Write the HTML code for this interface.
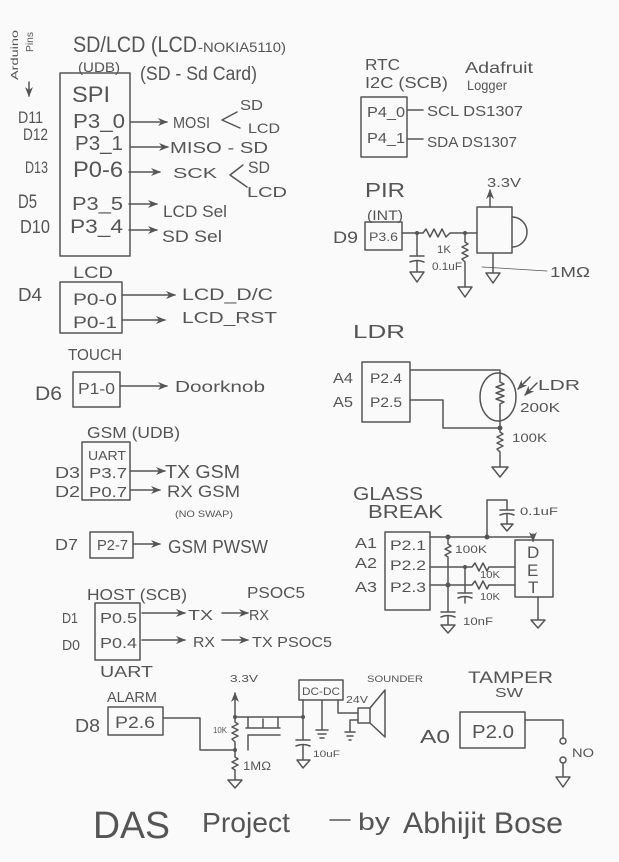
<!DOCTYPE html>
<html><head><meta charset="utf-8">
<style>
html,body{margin:0;padding:0;background:#fafafa;}
svg{display:block;}
text{font-family:"Liberation Sans",sans-serif;fill:#555;}
</style></head><body>
<svg width="619" height="862" viewBox="0 0 619 862" xmlns="http://www.w3.org/2000/svg">
<defs>
<marker id="a" markerWidth="10" markerHeight="8" refX="9" refY="4" orient="auto" markerUnits="userSpaceOnUse">
<path d="M0,0 L10,4 L0,8 L3,4 Z" fill="#555"/>
</marker>
</defs>
<rect width="619" height="862" fill="#fafafa"/>
<g stroke="#555" stroke-width="1.5" fill="none" stroke-linecap="round" stroke-linejoin="round">
<!-- top-left SPI -->
<path d="M29,82 V96" marker-end="url(#a)"/>
<rect x="60" y="73" width="70" height="183"/>
<path d="M131,122 H167" marker-end="url(#a)"/>
<path d="M131,147 H168" marker-end="url(#a)"/>
<path d="M129,172 H160" marker-end="url(#a)"/>
<path d="M129,204 H157" marker-end="url(#a)"/>
<path d="M129,230 H157" marker-end="url(#a)"/>
<polyline points="237,112 222,120 240,128"/>
<polyline points="243,165 230,175 247,187"/>
<!-- LCD -->
<rect x="60" y="282" width="62" height="51"/>
<path d="M122,295 H175" marker-end="url(#a)"/>
<path d="M122,320 H165" marker-end="url(#a)"/>
<!-- touch -->
<rect x="73" y="372" width="47" height="35"/>
<path d="M120,386 H167" marker-end="url(#a)"/>
<!-- GSM -->
<rect x="82" y="442" width="48" height="58"/>
<path d="M130,471 H165" marker-end="url(#a)"/>
<path d="M130,490 H160" marker-end="url(#a)"/>
<rect x="90" y="532" width="43" height="26"/>
<path d="M133,544 H160" marker-end="url(#a)"/>
<!-- RTC -->
<rect x="361" y="97" width="46" height="60"/>
<path d="M407,110 H423"/>
<path d="M407,139 H423"/>
<!-- PIR -->
<rect x="365" y="222" width="37" height="28"/>
<path d="M402,233 H423 l3,-4 l4,8 l4,-8 l4,8 l4,-8 l4,8 l4,-4 H477"/>
<path d="M417,233 V256 M410,256 H424 M410,262 q7,-3 14,0 M417,261 V272 M410,272 H424 L417,282 Z"/>
<path d="M465,233 V242 l3,2 l-6,3 l6,3 l-6,3 l6,3 l-6,3 l3,3 V287 M458,287 H472 L465,297 Z"/>
<rect x="477" y="207" width="35" height="46"/>
<path d="M512,217 A15,15 0 0 1 512,247"/>
<path d="M490,207 V190" marker-end="url(#a)"/>
<path d="M493,253 V273 M486,273 H500 L493,283 Z"/>
<path d="M482,267 L547,271" stroke-width="0.8"/>
<!-- LDR -->
<rect x="362" y="362" width="48" height="60"/>
<path d="M410,370 H500 V382 l4,2 l-8,3 l8,3 l-8,3 l8,3 l-8,3 l8,3 l-4,2 V428"/>
<ellipse cx="498" cy="397" rx="18" ry="24"/>
<path d="M410,400 H443 V428 H500"/>
<path d="M500,428 V432 l3,2 l-6,3 l6,3 l-6,3 l6,3 l-6,3 l3,3 V467 M492,467 H508 L500,477 Z"/>
<path d="M530,377 L518,389" marker-end="url(#a)"/>
<path d="M537,383 L525,395" marker-end="url(#a)"/>
<!-- Glass break -->
<rect x="385" y="532" width="45" height="78"/>
<path d="M430,537 H533 V541" />
<path d="M533,534 V541" marker-end="url(#a)"/>
<path d="M487,537 V500 H507 V510 M500,510 H514 M500,515 q7,-3 14,0 M507,514 V524 M501,524 H513 L507,531 Z"/>
<rect x="515" y="540" width="38" height="57"/>
<path d="M430,567 H472 l3,-4 l4,8 l4,-8 l4,8 l2,-4 H515"/>
<path d="M430,585 H472 l3,-4 l4,8 l4,-8 l4,8 l2,-4 H515"/>
<path d="M448,537 V544 l3,2 l-6,3 l6,3 l-6,3 l3,2 V612 M441,612 H455 M441,617 q7,-3 14,0 M448,616 V625 M441,625 H455 L448,633 Z"/>
<path d="M465,567 V593 M458,593 H472 M458,598 q7,-3 14,0 M465,597 V603"/>
<path d="M538,597 V620 M531,620 H545 L538,628 Z"/>
<!-- Host -->
<rect x="95" y="603" width="45" height="57"/>
<path d="M142,613 H185" marker-end="url(#a)"/>
<path d="M142,640 H185" marker-end="url(#a)"/>
<path d="M222,613 H248" marker-end="url(#a)"/>
<path d="M222,640 H248" marker-end="url(#a)"/>
<!-- Alarm -->
<rect x="108" y="707" width="55" height="28"/>
<path d="M163,718 H200 V750 H235"/>
<path d="M235,717 V693" marker-end="url(#a)"/>
<path d="M235,717 V722 l3,2 l-6,3 l6,3 l-6,3 l6,3 l-6,3 l3,3 V757 l3,2 l-6,3 l6,3 l-6,3 l3,2 V780 M228,780 H242 L235,788 Z"/>
<path d="M235,717 H278 V728 M248,717 V728 M263,728 V719 M246,728 H280 M248,735 H280 M248,735 V750 M278,717 H303"/>
<rect x="299" y="680" width="44" height="20"/>
<path d="M303,700 V740 M296,740 H310 M296,746 q7,-3 14,0 M303,745 V760 M297,760 H310 L303,768 Z"/>
<path d="M322,700 V730 M316,730 H328 M318,734 H326 M320,738 H324"/>
<path d="M338,700 V713 H358"/>
<rect x="358" y="708" width="12" height="15"/>
<path d="M370,708 L385,690 V737 L370,723"/>
<path d="M358,720 H350 V732 M345,732 H355 M347,736 H353 M349,740 H351"/>
<!-- Tamper -->
<rect x="460" y="712" width="65" height="36"/>
<path d="M525,720 H563 V738"/>
<circle cx="563" cy="741" r="3"/>
<circle cx="563" cy="760" r="3"/>
<path d="M563,763 V777 M556,777 H570 L563,787 Z"/>
<!-- title dash -->
<path d="M330,820 H350"/>
</g>
<g fill="#555">
<circle cx="417" cy="233" r="2"/><circle cx="465" cy="233" r="2"/>
<circle cx="500" cy="428" r="2.5"/>
<circle cx="448" cy="537" r="2.5"/><circle cx="487" cy="537" r="2.5"/>
<circle cx="465" cy="567" r="2"/><circle cx="448" cy="585" r="2.5"/>
<circle cx="235" cy="717" r="2"/><circle cx="235" cy="750" r="2"/><circle cx="303" cy="717" r="2"/>
</g>
<g>
<text transform="translate(18,80) rotate(-90)" font-size="10" textLength="50" lengthAdjust="spacingAndGlyphs">Arduino</text>
<text transform="translate(33,52) rotate(-90)" font-size="10" textLength="20" lengthAdjust="spacingAndGlyphs">Pins</text>
<text x="73" y="52" font-size="22" textLength="124" lengthAdjust="spacingAndGlyphs">SD/LCD (LCD</text>
<text x="198" y="52" font-size="14" textLength="88" lengthAdjust="spacingAndGlyphs">-NOKIA5110)</text>
<text x="78" y="72" font-size="14" textLength="42" lengthAdjust="spacingAndGlyphs">(UDB)</text>
<text x="140" y="80" font-size="19" textLength="117" lengthAdjust="spacingAndGlyphs">(SD - Sd Card)</text>
<text x="72" y="102" font-size="22" textLength="38" lengthAdjust="spacingAndGlyphs">SPI</text>
<text x="18" y="123" font-size="17" textLength="25" lengthAdjust="spacingAndGlyphs">D11</text>
<text x="73" y="128" font-size="20" textLength="52" lengthAdjust="spacingAndGlyphs">P3_0</text>
<text x="173" y="128" font-size="16" textLength="37" lengthAdjust="spacingAndGlyphs">MOSI</text>
<text x="240" y="110" font-size="15" textLength="23" lengthAdjust="spacingAndGlyphs">SD</text>
<text x="248" y="133" font-size="14" textLength="32" lengthAdjust="spacingAndGlyphs">LCD</text>
<text x="23" y="140" font-size="17" textLength="25" lengthAdjust="spacingAndGlyphs">D12</text>
<text x="75" y="150" font-size="20" textLength="48" lengthAdjust="spacingAndGlyphs">P3_1</text>
<text x="170" y="153" font-size="16" textLength="98" lengthAdjust="spacingAndGlyphs">MISO - SD</text>
<text x="25" y="173" font-size="17" textLength="23" lengthAdjust="spacingAndGlyphs">D13</text>
<text x="73" y="177" font-size="22" textLength="50" lengthAdjust="spacingAndGlyphs">P0-6</text>
<text x="173" y="178" font-size="15" textLength="44" lengthAdjust="spacingAndGlyphs">SCK</text>
<text x="248" y="173" font-size="17" textLength="22" lengthAdjust="spacingAndGlyphs">SD</text>
<text x="247" y="197" font-size="15" textLength="40" lengthAdjust="spacingAndGlyphs">LCD</text>
<text x="18" y="208" font-size="19" textLength="19" lengthAdjust="spacingAndGlyphs">D5</text>
<text x="72" y="210" font-size="18" textLength="51" lengthAdjust="spacingAndGlyphs">P3_5</text>
<text x="163" y="217" font-size="17" textLength="64" lengthAdjust="spacingAndGlyphs">LCD Sel</text>
<text x="20" y="233" font-size="18" textLength="30" lengthAdjust="spacingAndGlyphs">D10</text>
<text x="70" y="233" font-size="19" textLength="53" lengthAdjust="spacingAndGlyphs">P3_4</text>
<text x="162" y="242" font-size="17" textLength="60" lengthAdjust="spacingAndGlyphs">SD Sel</text>

<text x="73" y="278" font-size="17" textLength="40" lengthAdjust="spacingAndGlyphs">LCD</text>
<text x="18" y="301" font-size="18" textLength="24" lengthAdjust="spacingAndGlyphs">D4</text>
<text x="73" y="305" font-size="17" textLength="44" lengthAdjust="spacingAndGlyphs">P0-0</text>
<text x="73" y="328" font-size="17" textLength="44" lengthAdjust="spacingAndGlyphs">P0-1</text>
<text x="182" y="300" font-size="17" textLength="91" lengthAdjust="spacingAndGlyphs">LCD_D/C</text>
<text x="182" y="323" font-size="16" textLength="95" lengthAdjust="spacingAndGlyphs">LCD_RST</text>
<text x="68" y="360" font-size="16" textLength="54" lengthAdjust="spacingAndGlyphs">TOUCH</text>
<text x="35" y="400" font-size="19" textLength="27" lengthAdjust="spacingAndGlyphs">D6</text>
<text x="78" y="394" font-size="16" textLength="37" lengthAdjust="spacingAndGlyphs">P1-0</text>
<text x="175" y="392" font-size="16" textLength="90" lengthAdjust="spacingAndGlyphs">Doorknob</text>
<text x="87" y="438" font-size="16" textLength="93" lengthAdjust="spacingAndGlyphs">GSM (UDB)</text>
<text x="88" y="460" font-size="13" textLength="38" lengthAdjust="spacingAndGlyphs">UART</text>
<text x="55" y="478" font-size="16" textLength="25" lengthAdjust="spacingAndGlyphs">D3</text>
<text x="89" y="478" font-size="15" textLength="38" lengthAdjust="spacingAndGlyphs">P3.7</text>
<text x="55" y="497" font-size="16" textLength="25" lengthAdjust="spacingAndGlyphs">D2</text>
<text x="89" y="497" font-size="15" textLength="38" lengthAdjust="spacingAndGlyphs">P0.7</text>
<text x="165" y="478" font-size="18" textLength="75" lengthAdjust="spacingAndGlyphs">TX GSM</text>
<text x="167" y="497" font-size="17" textLength="73" lengthAdjust="spacingAndGlyphs">RX GSM</text>
<text x="175" y="517" font-size="9" textLength="58" lengthAdjust="spacingAndGlyphs">(NO SWAP)</text>
<text x="55" y="550" font-size="16" textLength="23" lengthAdjust="spacingAndGlyphs">D7</text>
<text x="97" y="550" font-size="15" textLength="31" lengthAdjust="spacingAndGlyphs">P2-7</text>
<text x="168" y="553" font-size="18" textLength="100" lengthAdjust="spacingAndGlyphs">GSM PWSW</text>

<text x="365" y="70" font-size="16" textLength="35" lengthAdjust="spacingAndGlyphs">RTC</text>
<text x="365" y="88" font-size="16" textLength="83" lengthAdjust="spacingAndGlyphs">I2C (SCB)</text>
<text x="465" y="73" font-size="16" textLength="68" lengthAdjust="spacingAndGlyphs">Adafruit</text>
<text x="467" y="90" font-size="14" textLength="40" lengthAdjust="spacingAndGlyphs">Logger</text>
<text x="367" y="117" font-size="15" textLength="38" lengthAdjust="spacingAndGlyphs">P4_0</text>
<text x="367" y="143" font-size="15" textLength="38" lengthAdjust="spacingAndGlyphs">P4_1</text>
<text x="427" y="116" font-size="15" textLength="96" lengthAdjust="spacingAndGlyphs">SCL DS1307</text>
<text x="427" y="147" font-size="15" textLength="90" lengthAdjust="spacingAndGlyphs">SDA DS1307</text>

<text x="365" y="197" font-size="20" textLength="40" lengthAdjust="spacingAndGlyphs">PIR</text>
<text x="367" y="220" font-size="14" textLength="36" lengthAdjust="spacingAndGlyphs">(INT)</text>
<text x="333" y="243" font-size="17" textLength="25" lengthAdjust="spacingAndGlyphs">D9</text>
<text x="369" y="241" font-size="12" textLength="29" lengthAdjust="spacingAndGlyphs">P3.6</text>
<text x="437" y="253" font-size="11" textLength="14" lengthAdjust="spacingAndGlyphs">1K</text>
<text x="432" y="270" font-size="11" textLength="30" lengthAdjust="spacingAndGlyphs">0.1uF</text>
<text x="487" y="187" font-size="13" textLength="34" lengthAdjust="spacingAndGlyphs">3.3V</text>
<text x="550" y="277" font-size="15" textLength="40" lengthAdjust="spacingAndGlyphs">1MΩ</text>

<text x="353" y="338" font-size="18" textLength="52" lengthAdjust="spacingAndGlyphs">LDR</text>
<text x="333" y="383" font-size="15" textLength="20" lengthAdjust="spacingAndGlyphs">A4</text>
<text x="333" y="407" font-size="15" textLength="20" lengthAdjust="spacingAndGlyphs">A5</text>
<text x="370" y="383" font-size="14" textLength="32" lengthAdjust="spacingAndGlyphs">P2.4</text>
<text x="370" y="407" font-size="14" textLength="32" lengthAdjust="spacingAndGlyphs">P2.5</text>
<text x="538" y="390" font-size="15" textLength="42" lengthAdjust="spacingAndGlyphs">LDR</text>
<text x="520" y="412" font-size="13" textLength="40" lengthAdjust="spacingAndGlyphs">200K</text>
<text x="512" y="442" font-size="12" textLength="35" lengthAdjust="spacingAndGlyphs">100K</text>

<text x="353" y="500" font-size="18" textLength="70" lengthAdjust="spacingAndGlyphs">GLASS</text>
<text x="368" y="518" font-size="18" textLength="75" lengthAdjust="spacingAndGlyphs">BREAK</text>
<text x="355" y="548" font-size="15" textLength="22" lengthAdjust="spacingAndGlyphs">A1</text>
<text x="355" y="568" font-size="15" textLength="22" lengthAdjust="spacingAndGlyphs">A2</text>
<text x="355" y="592" font-size="15" textLength="22" lengthAdjust="spacingAndGlyphs">A3</text>
<text x="390" y="550" font-size="14" textLength="36" lengthAdjust="spacingAndGlyphs">P2.1</text>
<text x="390" y="570" font-size="14" textLength="36" lengthAdjust="spacingAndGlyphs">P2.2</text>
<text x="390" y="592" font-size="14" textLength="36" lengthAdjust="spacingAndGlyphs">P2.3</text>
<text x="520" y="515" font-size="11" textLength="38" lengthAdjust="spacingAndGlyphs">0.1uF</text>
<text x="455" y="553" font-size="11" textLength="32" lengthAdjust="spacingAndGlyphs">100K</text>
<text x="480" y="578" font-size="10" textLength="20" lengthAdjust="spacingAndGlyphs">10K</text>
<text x="480" y="600" font-size="10" textLength="20" lengthAdjust="spacingAndGlyphs">10K</text>
<text x="463" y="625" font-size="11" textLength="30" lengthAdjust="spacingAndGlyphs">10nF</text>
<text x="527" y="558" font-size="17">D</text>
<text x="527" y="576" font-size="17">E</text>
<text x="528" y="593" font-size="17">T</text>

<text x="87" y="600" font-size="16" textLength="100" lengthAdjust="spacingAndGlyphs">HOST (SCB)</text>
<text x="247" y="598" font-size="16" textLength="58" lengthAdjust="spacingAndGlyphs">PSOC5</text>
<text x="62" y="623" font-size="15" textLength="16" lengthAdjust="spacingAndGlyphs">D1</text>
<text x="62" y="650" font-size="15" textLength="18" lengthAdjust="spacingAndGlyphs">D0</text>
<text x="100" y="623" font-size="15" textLength="37" lengthAdjust="spacingAndGlyphs">P0.5</text>
<text x="100" y="648" font-size="15" textLength="37" lengthAdjust="spacingAndGlyphs">P0.4</text>
<text x="188" y="620" font-size="15" textLength="25" lengthAdjust="spacingAndGlyphs">TX</text>
<text x="249" y="620" font-size="15" textLength="20" lengthAdjust="spacingAndGlyphs">RX</text>
<text x="193" y="647" font-size="15" textLength="22" lengthAdjust="spacingAndGlyphs">RX</text>
<text x="252" y="647" font-size="15" textLength="80" lengthAdjust="spacingAndGlyphs">TX PSOC5</text>
<text x="100" y="677" font-size="16" textLength="53" lengthAdjust="spacingAndGlyphs">UART</text>
<text x="107" y="702" font-size="15" textLength="50" lengthAdjust="spacingAndGlyphs">ALARM</text>
<text x="75" y="732" font-size="18" textLength="25" lengthAdjust="spacingAndGlyphs">D8</text>
<text x="115" y="728" font-size="17" textLength="40" lengthAdjust="spacingAndGlyphs">P2.6</text>
<text x="230" y="682" font-size="10" textLength="28" lengthAdjust="spacingAndGlyphs">3.3V</text>
<text x="213" y="733" font-size="8" textLength="14" lengthAdjust="spacingAndGlyphs">10K</text>
<text x="243" y="770" font-size="12" textLength="28" lengthAdjust="spacingAndGlyphs">1MΩ</text>
<text x="302" y="695" font-size="11" textLength="38" lengthAdjust="spacingAndGlyphs">DC-DC</text>
<text x="313" y="757" font-size="9" textLength="27" lengthAdjust="spacingAndGlyphs">10uF</text>
<text x="367" y="682" font-size="9" textLength="56" lengthAdjust="spacingAndGlyphs">SOUNDER</text>
<text x="346" y="703" font-size="10" textLength="22" lengthAdjust="spacingAndGlyphs">24V</text>

<text x="468" y="683" font-size="17" textLength="85" lengthAdjust="spacingAndGlyphs">TAMPER</text>
<text x="495" y="697" font-size="13" textLength="28" lengthAdjust="spacingAndGlyphs">SW</text>
<text x="420" y="743" font-size="18" textLength="30" lengthAdjust="spacingAndGlyphs">A0</text>
<text x="472" y="738" font-size="18" textLength="42" lengthAdjust="spacingAndGlyphs">P2.0</text>
<text x="572" y="757" font-size="12" textLength="22" lengthAdjust="spacingAndGlyphs">NO</text>

<text x="93" y="838" font-size="38" textLength="77" lengthAdjust="spacingAndGlyphs" fill="#666">DAS</text>
<text x="202" y="832" font-size="28" textLength="88" lengthAdjust="spacingAndGlyphs" fill="#666">Project</text>
<text x="358" y="830" font-size="24" textLength="32" lengthAdjust="spacingAndGlyphs" fill="#666">by</text>
<text x="403" y="833" font-size="30" textLength="160" lengthAdjust="spacingAndGlyphs" fill="#666">Abhijit Bose</text>
</g>
</svg>
</body></html>
